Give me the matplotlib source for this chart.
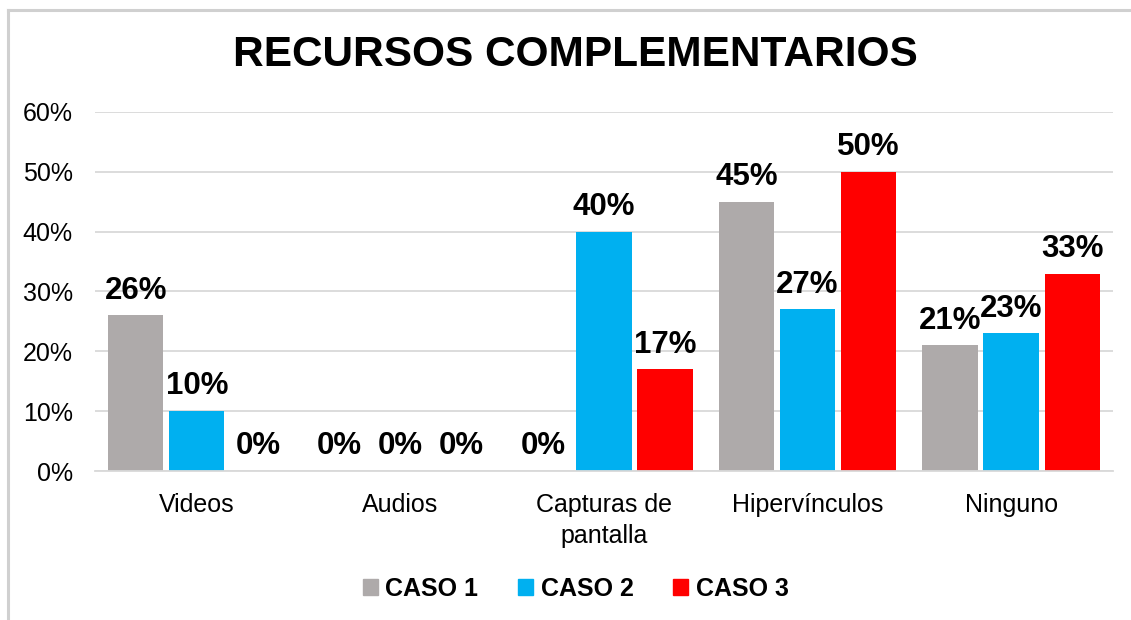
import numpy as np
import matplotlib.pyplot as plt
from matplotlib.patches import Rectangle
from matplotlib.lines import Line2D

plt.rcParams['font.family'] = ['Liberation Sans', 'DejaVu Sans']

categories = ['Videos', 'Audios', 'Capturas de\npantalla', 'Hipervínculos', 'Ninguno']
series_names = ['CASO 1', 'CASO 2', 'CASO 3']
caso1 = [0.26, 0.0, 0.0, 0.45, 0.21]
caso2 = [0.10, 0.0, 0.40, 0.27, 0.23]
caso3 = [0.0, 0.0, 0.17, 0.50, 0.33]
colors = ['#AEAAAA', '#00B0F0', '#FF0000']

fig = plt.figure(figsize=(11.31, 6.2), dpi=100)
ax = fig.add_axes([0.084, 0.2403, 0.9, 0.5791])

x = np.arange(len(categories))
w = 0.272
step = 0.30
for i, vals in enumerate([caso1, caso2, caso3]):
    pos = x + (i - 1) * step
    ax.bar(pos, vals, width=w, color=colors[i], label=series_names[i], zorder=2)
    for p, v in zip(pos, vals):
        ax.annotate('%d%%' % round(v * 100), (p, v), xytext=(0, 7),
                    textcoords='offset points', ha='center', va='bottom',
                    fontsize=22.5, fontweight='bold')

ax.set_xlim(-0.5, len(categories) - 0.5)
ax.set_ylim(0, 0.6)
ax.set_yticks(np.arange(0, 0.61, 0.1))
ax.set_yticklabels(['%d%%' % round(t * 100) for t in np.arange(0, 0.61, 0.1)])
ax.set_xticks(x)
ax.set_xticklabels(categories, linespacing=1.35)
ax.tick_params(axis='both', length=0, labelsize=18)
ax.tick_params(axis='y', pad=16)
ax.tick_params(axis='x', pad=16)
ax.grid(axis='y', color='#D9D9D9', linewidth=1.3, zorder=0)
ax.set_axisbelow(True)
for s in ['top', 'right', 'left']:
    ax.spines[s].set_visible(False)
ax.spines['bottom'].set_color('#D9D9D9')
ax.spines['bottom'].set_linewidth(1.3)

fig.text(0.509, 0.912, 'RECURSOS COMPLEMENTARIOS', ha='center', va='center',
         fontsize=30.5, fontweight='bold')

handles = [Rectangle((0, 0), 1, 1, color=c) for c in colors]
leg = fig.legend(handles, series_names, loc='center', bbox_to_anchor=(0.509, 0.05),
                 ncol=3, frameon=False, handlelength=0.6, handleheight=0.6,
                 handletextpad=0.3, columnspacing=1.6,
                 prop={'size': 18, 'weight': 'bold'})

# outer frame (left and top only visible)
fig.add_artist(Line2D([0.0075, 0.0075], [0, 0.984], color='#D0D0D0', linewidth=2.2))
fig.add_artist(Line2D([0.0075, 1.0], [0.984, 0.984], color='#D0D0D0', linewidth=2.2))

fig.savefig('out.png', dpi=100)
